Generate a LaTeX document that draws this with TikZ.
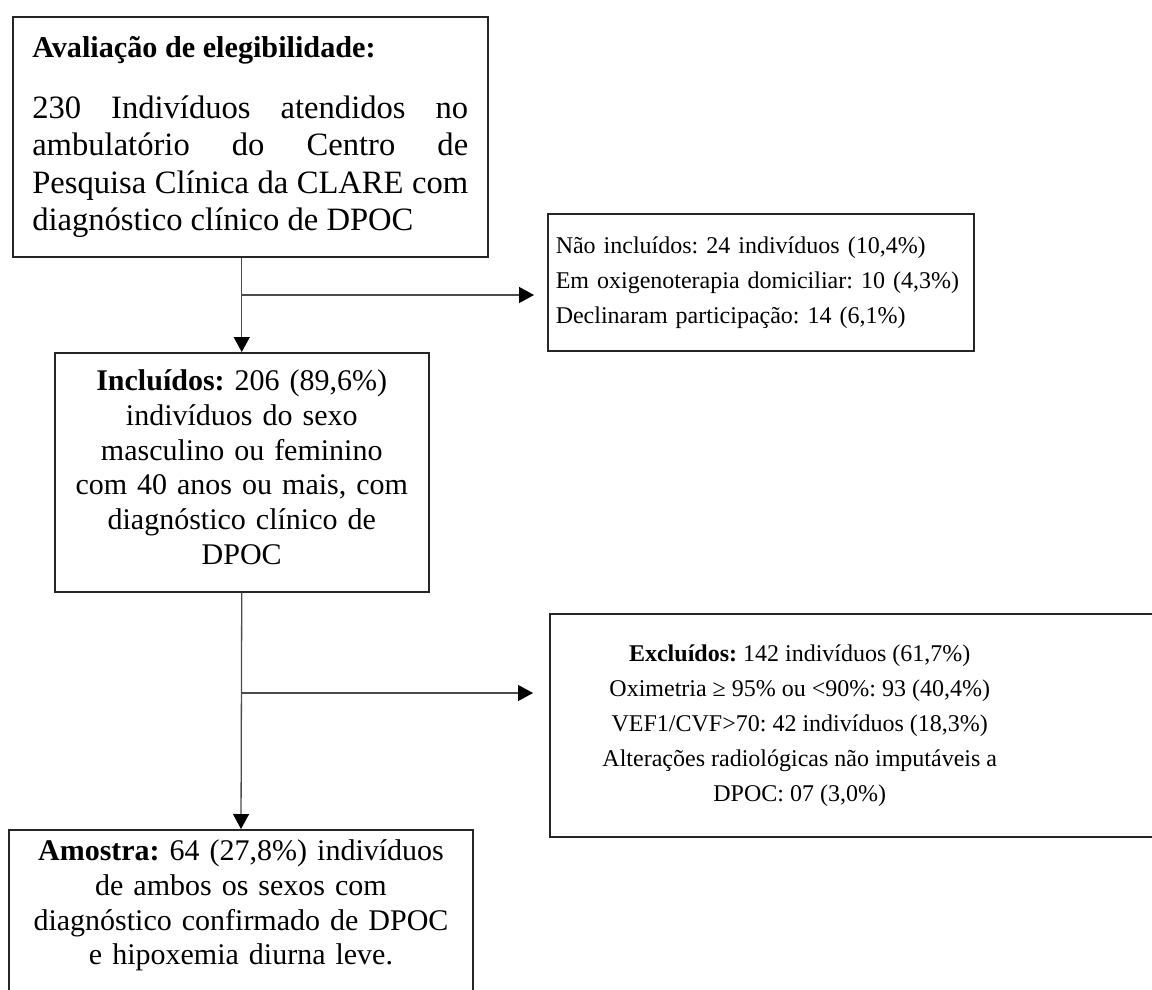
\documentclass[tikz,border=0pt]{standalone}
\usepackage{fontspec}
\setmainfont{Liberation Serif}
\usetikzlibrary{arrows.meta}
\frenchspacing

\begin{document}
\begin{tikzpicture}[x=1pt,y=-1pt,
  box/.style={draw=black!85,line width=1.5pt,inner sep=0pt},
  conn/.style={draw=black!70,line width=1.3pt,-{Triangle[width=16pt,length=15pt,black]}}]
\useasboundingbox (0,0) rectangle (1152,989);

\node[box,anchor=north west,minimum width=475pt,minimum height=240pt,text width=436pt,align=justify,
  font=\fontsize{32.6}{37.5}\selectfont] (elig) at (12,16)
  {{\fontsize{30.2}{37.5}\selectfont\bfseries Avaliação de elegibilidade:}\\[23.5pt]
   230 Indivíduos atendidos no\linebreak ambulatório do Centro de\linebreak
   Pesquisa Clínica da CLARE com\linebreak diagnóstico clínico de DPOC};

\node[box,anchor=north west,minimum width=374pt,minimum height=239pt,text width=350pt,align=center,
  font=\fontsize{30}{34.7}\selectfont] (incl) at (54,352)
  {\textbf{Incluídos:} 206 (89,6\%)\\ indivíduos do sexo\\ masculino ou feminino\\
   com 40 anos ou mais, com\\ diagnóstico clínico de\\ DPOC\vspace*{10pt}};

\node[box,anchor=north west,minimum width=426pt,minimum height=137pt,text width=410pt,align=left,
  font=\fontsize{24}{35}\selectfont] (naoinc) at (547,213)
  {Não incluídos: 24 indivíduos (10,4\%)\\ Em oxigenoterapia domiciliar: 10 (4,3\%)\\
   Declinaram participação: 14 (6,1\%)};

% box runs off the right edge of the page
\node[box,anchor=north west,minimum height=223pt,font=\fontsize{24}{35}\selectfont] (excl) at (549,613)
  {\parbox{500pt}{\centering\textbf{Excluídos:} 142 indivíduos (61,7\%)\\
   Oximetria ≥ 95\% ou <90\%: 93 (40,4\%)\\ VEF1/CVF>70: 42 indivíduos (18,3\%)\\
   Alterações radiológicas não imputáveis a\\ DPOC: 07 (3,0\%)}\hspace*{111pt}};

% bottom edge below the page
\node[box,anchor=north,minimum width=464pt,text width=440pt,align=center,inner ysep=10pt,
  font=\fontsize{30}{34.7}\selectfont] (amostra) at (241,829)
  {\textbf{Amostra:} 64 (27,8\%) indivíduos\\ de ambos os sexos com\\
   diagnóstico confirmado de DPOC\\ e hipoxemia diurna leve.\\[30pt]\mbox{}};

\coordinate (fork1) at (241,295);
\coordinate (fork2) at (241,693);
\draw[conn] (elig.south -| incl.north) -- (incl.north);
\draw[conn,shorten >=13pt] (fork1) -- (fork1 -| naoinc.west);
\draw[conn] (incl.south) -- (amostra.north);
\draw[conn,shorten >=16pt] (fork2) -- (fork2 -| excl.west);
\end{tikzpicture}
\end{document}
